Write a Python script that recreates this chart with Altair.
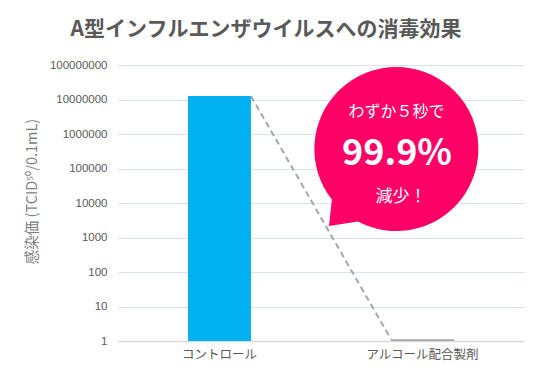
import altair as alt
import pandas as pd

categories = ["コントロール", "アルコール配合製剤"]
values = [12600000, 1.12]
bar_colors = ["#00B0F0", "#A6A6A6"]
y_ticks = [1, 10, 100, 1000, 10000, 100000, 1000000, 10000000, 100000000]

title_text = "A型インフルエンザウイルスへの消毒効果"
y_title = "感染価 (TCID⁵⁰/0.1mL)"
bubble_lines = ["わずか５秒で", "99.9%", "減少！"]

FONT = "Noto Sans CJK JP"
W, H = 406, 276

df = pd.DataFrame({"cat": categories, "val": values, "base": [1, 1]})
df_line = pd.DataFrame({"c1": [categories[0]], "c2": [categories[1]],
                        "v1": [values[0]], "v2": [values[1]]})

xscale = alt.Scale(domain=categories, paddingInner=0.69, paddingOuter=0.345)
yscale = alt.Scale(type="log", domain=[1, 100000000], nice=False)

bars = alt.Chart(df).mark_bar().encode(
    x=alt.X("cat:N", scale=xscale, sort=categories,
            axis=alt.Axis(title=None, labelAngle=0, labelFontSize=12.5, labelColor="#595959",
                          labelFont=FONT, labelPadding=7, ticks=False, domainColor="#D9D9D9",
                          domainWidth=1.5, grid=False)),
    y=alt.Y("val:Q", scale=yscale,
            axis=alt.Axis(values=y_ticks, format="d", title=y_title, titleFont=FONT,
                          titleFontSize=14.5, titleFontWeight="normal", titleColor="#7F7F7F",
                          titleAngle=270, titleX=-86, titleY=126, titleAlign="center",
                          titleBaseline="middle",
                          labelFontSize=11.5, labelColor="#595959", labelFont="Liberation Sans",
                          labelPadding=11, domain=False, ticks=False,
                          gridColor="#D6E2F2", gridWidth=1.2)),
    y2="base:Q",
    color=alt.Color("cat:N", scale=alt.Scale(domain=categories, range=bar_colors), legend=None),
)

line = alt.Chart(df_line).mark_rule(color="#A6A6A6", strokeWidth=2, strokeDash=[6, 4],
                                    xOffset=31.5, x2Offset=-31.5).encode(
    x=alt.X("c1:N", scale=xscale, sort=categories),
    x2="c2:N",
    y=alt.Y("v1:Q", scale=yscale),
    y2="v2:Q",
)

ann = pd.DataFrame({"k": [0]})
circle = alt.Chart(ann).mark_point(
    shape="M -0.469,0.883 L -0.823,0.939 L -0.788,0.616 A 1 1 0 1 1 -0.469,0.883 Z",
    filled=True, color="#FF0066", opacity=1, size=164 * 164, strokeWidth=0,
).encode(x=alt.value(278.5), y=alt.value(84))

t1 = alt.Chart(ann).mark_text(text=bubble_lines[0], font=FONT, fontSize=16, color="white",
                              baseline="middle", align="center").encode(
    x=alt.value(278.5), y=alt.value(46.5))
t2 = alt.Chart(ann).mark_text(text=bubble_lines[1], font=FONT, fontSize=36, fontWeight="bold",
                              color="white", baseline="middle", align="center").encode(
    x=alt.value(279), y=alt.value(89))
t3 = alt.Chart(ann).mark_text(text=bubble_lines[2], font=FONT, fontSize=17, color="white",
                              baseline="middle", align="center").encode(
    x=alt.value(283), y=alt.value(132))

title = alt.Chart(ann).mark_text(text=title_text, font=FONT, fontSize=21, fontWeight="bold",
                                 color="#595959", baseline="middle", align="center").encode(
    x=alt.value(148), y=alt.value(-35))

chart = alt.layer(bars, line, circle, t1, t2, t3, title).properties(
    width=W, height=H,
    background="white",
    autosize=alt.AutoSizeParams(type="none"),
    padding={"left": 110, "top": 57, "right": 6, "bottom": 34},
).configure_view(stroke=None)

chart.save("out.html", embed_options={"renderer": "svg", "actions": False})
